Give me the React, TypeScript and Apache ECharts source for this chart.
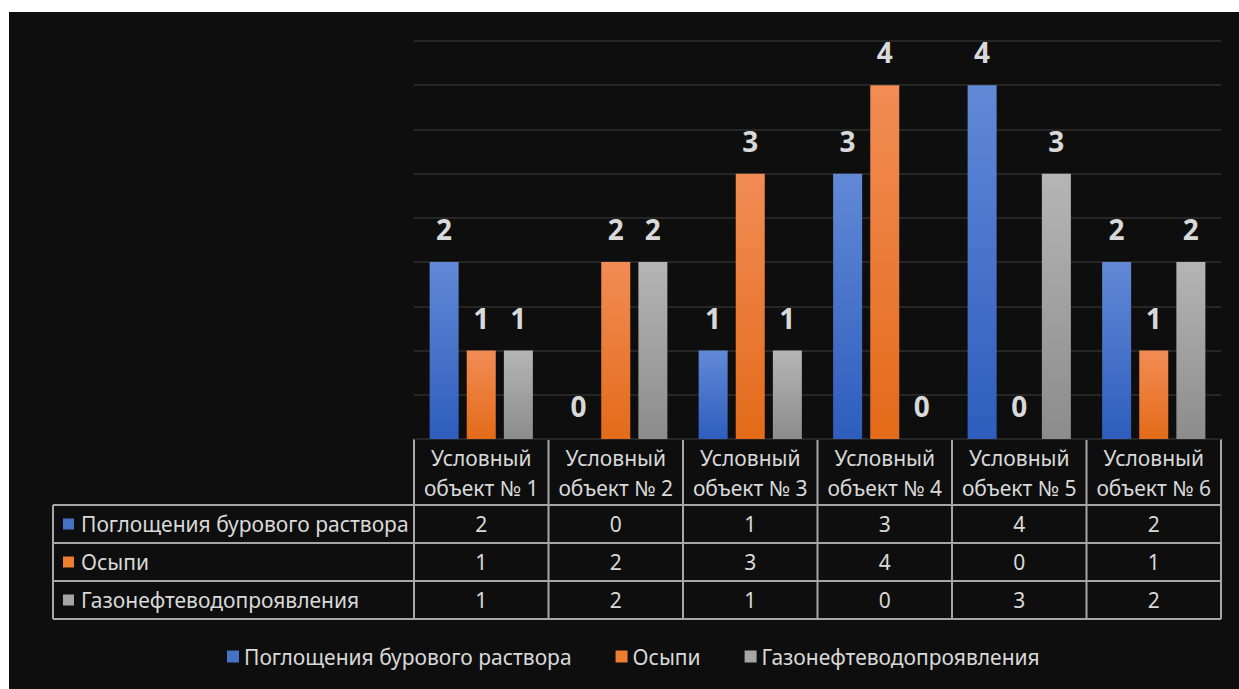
import React, { useEffect, useRef } from "react";
import * as echarts from "echarts";

const categories = [
  "Условный объект № 1",
  "Условный объект № 2",
  "Условный объект № 3",
  "Условный объект № 4",
  "Условный объект № 5",
  "Условный объект № 6",
];
const seriesNames = ["Поглощения бурового раствора", "Осыпи", "Газонефтеводопроявления"];
const absorption = [2, 0, 1, 3, 4, 2];
const caving = [1, 2, 3, 4, 0, 1];
const gasShows = [1, 2, 1, 0, 3, 2];
const seriesData = [absorption, caving, gasShows];

const swatch = ["#4472c4", "#ed7d31", "#a5a5a5"];
const gradTop = ["#6189d6", "#f28c55", "#b5b5b5"];
const gradBottom = ["#2e5dbd", "#e36b19", "#8c8c8c"];

const W = 1230;
const H = 677;
const GRID_LEFT = 405;
const GRID_RIGHT = 18;
const GRID_TOP = 29;
const GRID_BOTTOM = 250;
const TEXT = "#d9d9d9";
const LINE = "#a6a6a6";
const FONT = "'Noto Sans', 'Open Sans', sans-serif";
const FS = 21;

export default function App() {
  const ref = useRef<HTMLDivElement>(null);
  useEffect(() => {
    if (!ref.current) return;
    const chart = echarts.init(ref.current, null, { renderer: "svg" });

    const plotW = W - GRID_LEFT - GRID_RIGHT;
    const colW = plotW / categories.length;
    const axisY = H - GRID_BOTTOM;
    const headerBottom = axisY + 66;
    const rowH = 38;
    const tableLeft = 44;
    const tableRight = GRID_LEFT + plotW;
    const tableBottom = headerBottom + rowH * seriesNames.length;

    const g: any[] = [];
    const lineStyle = { stroke: LINE, lineWidth: 2 };
    g.push({ type: "line", shape: { x1: GRID_LEFT, y1: axisY, x2: tableRight, y2: axisY }, style: lineStyle });
    for (let r = 0; r <= seriesNames.length; r++) {
      const y = headerBottom + r * rowH;
      g.push({ type: "line", shape: { x1: tableLeft, y1: y, x2: tableRight, y2: y }, style: lineStyle });
    }
    g.push({ type: "line", shape: { x1: tableLeft, y1: headerBottom, x2: tableLeft, y2: tableBottom }, style: lineStyle });
    for (let c = 0; c <= categories.length; c++) {
      const x = GRID_LEFT + c * colW;
      g.push({ type: "line", shape: { x1: x, y1: axisY, x2: x, y2: tableBottom }, style: lineStyle });
    }
    categories.forEach((cat, i) => {
      const idx = cat.indexOf(" ");
      const l1 = cat.slice(0, idx);
      const l2 = cat.slice(idx + 1);
      const cx = GRID_LEFT + (i + 0.5) * colW;
      g.push({ type: "text", x: cx, y: axisY + 19, style: { text: l1, fill: TEXT, font: `${FS}px ${FONT}`, align: "center", verticalAlign: "middle" } });
      g.push({ type: "text", x: cx, y: axisY + 49, style: { text: l2, fill: TEXT, font: `${FS}px ${FONT}`, align: "center", verticalAlign: "middle" } });
    });
    seriesNames.forEach((name, r) => {
      const cy = headerBottom + r * rowH + rowH / 2;
      g.push({ type: "rect", shape: { x: tableLeft + 10, y: cy - 5.5, width: 11, height: 11 }, style: { fill: swatch[r] } });
      g.push({ type: "text", x: tableLeft + 28, y: cy, style: { text: name, fill: TEXT, font: `${FS}px ${FONT}`, align: "left", verticalAlign: "middle" } });
      seriesData[r].forEach((v, i) => {
        const cx = GRID_LEFT + (i + 0.5) * colW;
        g.push({ type: "text", x: cx, y: cy, style: { text: String(v), fill: TEXT, font: `${FS}px ${FONT}`, align: "center", verticalAlign: "middle" } });
      });
    });

    chart.setOption({
      animation: false,
      backgroundColor: "#0e0e0e",
      grid: { left: GRID_LEFT, right: GRID_RIGHT, top: GRID_TOP, bottom: GRID_BOTTOM },
      legend: {
        left: 213,
        top: 629,
        itemWidth: 12,
        itemHeight: 12,
        itemGap: 44,
        icon: "rect",
        textStyle: { color: TEXT, fontSize: FS, fontFamily: FONT },
        data: seriesNames.map((n, i) => ({ name: n, itemStyle: { color: swatch[i] } })),
      },
      xAxis: {
        type: "category",
        data: categories,
        axisLine: { show: false },
        axisTick: { show: false },
        axisLabel: { show: false },
      },
      yAxis: {
        type: "value",
        min: 0,
        max: 4.5,
        interval: 0.5,
        axisLabel: { show: false },
        axisLine: { show: false },
        axisTick: { show: false },
        splitLine: { lineStyle: { color: "#262626", width: 2 } },
      },
      series: seriesNames.map((name, i) => ({
        name,
        type: "bar",
        data: seriesData[i],
        barWidth: 29,
        barGap: "28%",
        itemStyle: {
          color: new echarts.graphic.LinearGradient(0, 0, 0, 1, [
            { offset: 0, color: gradTop[i] },
            { offset: 1, color: gradBottom[i] },
          ]),
        },
        label: {
          show: true,
          position: "top",
          distance: 19,
          color: TEXT,
          fontSize: 28,
          fontWeight: "bold",
          fontFamily: FONT,
        },
      })),
      graphic: g,
    });
    return () => chart.dispose();
  }, []);
  return (
    <div
      ref={ref}
      style={{ position: "absolute", left: 9, top: 12, width: W, height: H }}
    />
  );
}
